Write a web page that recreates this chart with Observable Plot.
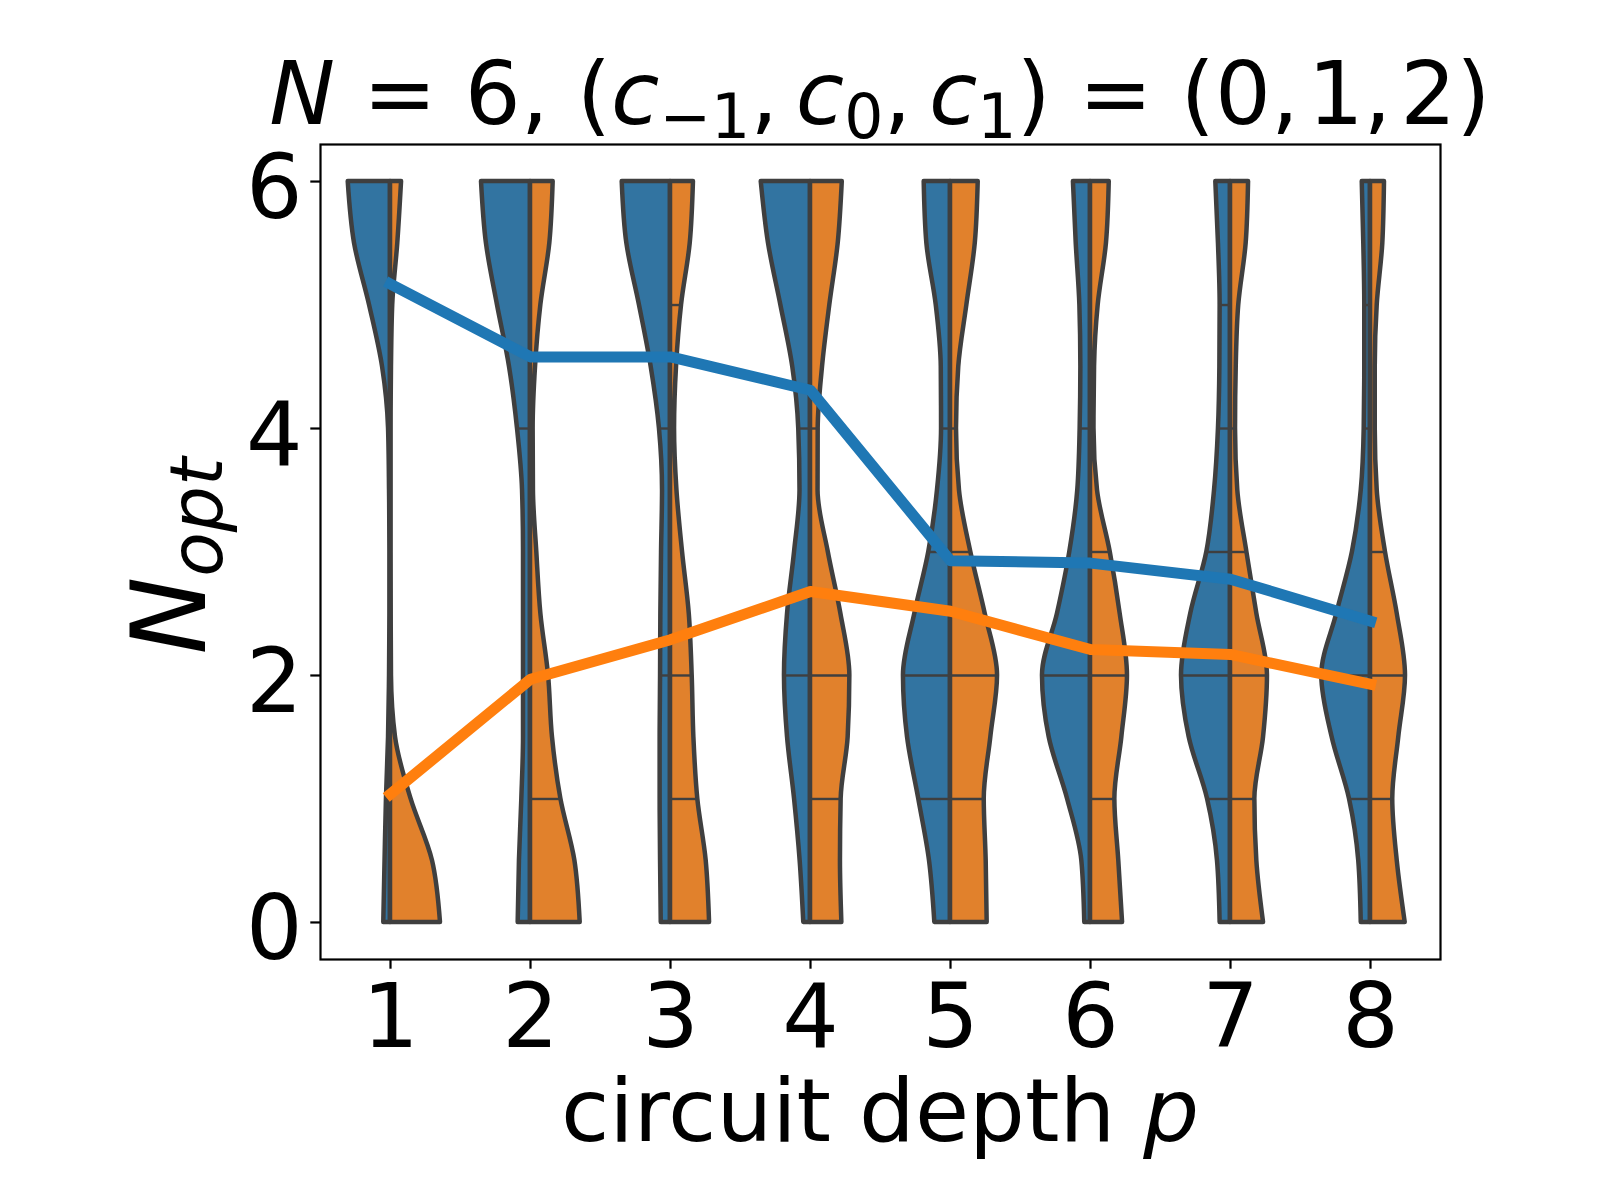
<!DOCTYPE html>
<html><head><meta charset="utf-8">
<script src="https://cdn.jsdelivr.net/npm/d3@7"></script>
<script src="https://cdn.jsdelivr.net/npm/@observablehq/plot@0.6"></script>
<style>body{margin:0;background:#fff} svg{display:block}</style>
</head><body><div id="chart"></div>
<script>
// circuit depth categories
const depths = [1, 2, 3, 4, 5, 6, 7, 8];
// N_opt levels at which violin half-widths were read (0 .. 6)
const levels = [0, 0.5, 1, 1.5, 2, 2.5, 3, 3.5, 4, 4.5, 5, 5.5, 6];
// half-widths (in category units) of the blue (left) halves, one row per depth, bottom to top
const blueWidths = [
  [0.048, 0.039, 0.029, 0.014, 0.007, 0.004, 0.004, 0.007, 0.014, 0.057, 0.150, 0.257, 0.302],
  [0.088, 0.079, 0.062, 0.050, 0.050, 0.050, 0.050, 0.057, 0.093, 0.150, 0.236, 0.315, 0.350],
  [0.066, 0.071, 0.074, 0.074, 0.071, 0.069, 0.064, 0.057, 0.079, 0.138, 0.222, 0.312, 0.345],
  [0.048, 0.074, 0.114, 0.164, 0.186, 0.164, 0.114, 0.075, 0.084, 0.127, 0.212, 0.300, 0.352],
  [0.112, 0.150, 0.227, 0.307, 0.336, 0.255, 0.155, 0.093, 0.064, 0.066, 0.102, 0.169, 0.188],
  [0.041, 0.062, 0.164, 0.295, 0.343, 0.236, 0.148, 0.091, 0.074, 0.069, 0.076, 0.102, 0.122],
  [0.074, 0.093, 0.164, 0.295, 0.350, 0.284, 0.169, 0.114, 0.086, 0.076, 0.074, 0.086, 0.105],
  [0.066, 0.084, 0.150, 0.274, 0.348, 0.241, 0.129, 0.066, 0.045, 0.041, 0.041, 0.048, 0.059]
];
// half-widths of the orange (right) halves
const orangeWidths = [
  [0.357, 0.300, 0.147, 0.036, 0.007, 0.005, 0.004, 0.004, 0.004, 0.007, 0.016, 0.052, 0.079],
  [0.355, 0.317, 0.217, 0.157, 0.129, 0.074, 0.045, 0.021, 0.019, 0.036, 0.074, 0.138, 0.162],
  [0.279, 0.255, 0.195, 0.167, 0.155, 0.134, 0.086, 0.046, 0.029, 0.043, 0.079, 0.141, 0.164],
  [0.224, 0.214, 0.219, 0.269, 0.281, 0.217, 0.127, 0.054, 0.055, 0.086, 0.138, 0.198, 0.227],
  [0.262, 0.255, 0.241, 0.288, 0.336, 0.248, 0.145, 0.064, 0.043, 0.059, 0.117, 0.177, 0.198],
  [0.229, 0.202, 0.174, 0.224, 0.264, 0.212, 0.141, 0.050, 0.025, 0.029, 0.055, 0.114, 0.134],
  [0.236, 0.188, 0.174, 0.236, 0.264, 0.188, 0.117, 0.052, 0.036, 0.041, 0.059, 0.112, 0.129],
  [0.248, 0.191, 0.159, 0.202, 0.250, 0.191, 0.107, 0.048, 0.034, 0.034, 0.048, 0.088, 0.100]
];
// inner lines drawn inside each half
const blueInner = [[], [4], [2, 4], [2, 4], [1, 2, 3, 4], [2, 4], [1, 2, 3, 4, 5], [1, 2, 4, 5]];
const orangeInner = [[], [1, 2], [1, 2, 5], [1, 2, 4], [1, 2, 3, 4], [1, 2, 3], [1, 2, 3, 4], [1, 2, 3]];
// mean lines
const blueMeans = [5.17, 4.58, 4.58, 4.31, 2.93, 2.91, 2.78, 2.44];
const orangeMeans = [1.04, 1.97, 2.29, 2.68, 2.52, 2.21, 2.17, 1.93];
const yTicks = [0, 2, 4, 6];

const blueFill = "#3274a1", orangeFill = "#e1812c", edge = "#3f3f3f";

const blueRows = [], orangeRows = [];
depths.forEach((p, i) => levels.forEach((y, j) => {
  blueRows.push({p, y, x1: p - blueWidths[i][j], x2: p});
  orangeRows.push({p, y, x1: p, x2: p + orangeWidths[i][j]});
}));
const innerRows = [];
depths.forEach((p, i) => {
  blueInner[i].forEach(v => innerRows.push({y: v, x1: p - blueWidths[i][levels.indexOf(v)], x2: p}));
  orangeInner[i].forEach(v => innerRows.push({y: v, x1: p, x2: p + orangeWidths[i][levels.indexOf(v)]}));
});
const blueLine = depths.map((p, i) => ({p, v: blueMeans[i]}));
const orangeLine = depths.map((p, i) => ({p, v: orangeMeans[i]}));

const plot = Plot.plot({
  width: 1600, height: 1200,
  marginLeft: 320, marginRight: 160, marginTop: 144, marginBottom: 241,
  style: {fontFamily: "DejaVu Sans", background: "white", color: "black", overflow: "visible"},
  x: {type: "linear", domain: [0.5, 8.5]},
  y: {domain: [-0.3, 6.3]},
  marks: [
    Plot.areaX(blueRows, {y: "y", x1: "x1", x2: "x2", z: "p", fill: blueFill, stroke: edge, strokeWidth: 4.5, strokeLinejoin: "round", curve: "monotone-y"}),
    Plot.areaX(orangeRows, {y: "y", x1: "x1", x2: "x2", z: "p", fill: orangeFill, stroke: edge, strokeWidth: 4.5, strokeLinejoin: "round", curve: "monotone-y"}),
    Plot.ruleY(innerRows, {y: "y", x1: "x1", x2: "x2", stroke: edge, strokeWidth: 2.4}),
    Plot.line(blueLine, {x: "p", y: "v", stroke: "#1f77b4", strokeWidth: 11, strokeLinecap: "square", strokeLinejoin: "round"}),
    Plot.line(orangeLine, {x: "p", y: "v", stroke: "#ff7f0e", strokeWidth: 11, strokeLinecap: "square", strokeLinejoin: "round"}),
    Plot.frame({stroke: "black", strokeWidth: 2.2}),
    Plot.axisY({ticks: yTicks, tickSize: 9.7, strokeWidth: 2.2, label: null, tickFormat: () => ""}),
    Plot.text(yTicks, {x: 0.5, y: d => d, text: d => String(d), textAnchor: "end", dx: -18, dy: 8, fontSize: 89, fill: "black"}),
    Plot.axisX({ticks: depths, tickSize: 9.7, tickPadding: 15, fontSize: 89, strokeWidth: 2.2, label: null, tickFormat: d => String(d)})
  ]
});
document.getElementById("chart").appendChild(plot);

const svg = d3.select(plot);
function addMath(parent, parts, size) {
  let shift = 0;
  parts.forEach(([txt, italic, sub]) => {
    const want = sub ? Math.round(size * 0.16) : 0;
    const t = parent.append("tspan").text(txt)
      .style("font-style", italic ? "italic" : "normal")
      .style("font-size", (sub ? size * 0.7 : size) + "px");
    if (want !== shift) { t.attr("dy", want - shift); shift = want; }
  });
}
// title
const title = svg.append("text").attr("x", 880).attr("y", 124).attr("text-anchor", "middle")
  .style("font-family", "DejaVu Sans").attr("fill", "black");
addMath(title, [["N", true], [" = 6, (", false], ["c", true], ["\u22121", false, true], [",\u2009", false],
  ["c", true], ["0", false, true], [",\u2009", false], ["c", true], ["1", false, true], [") = (0,\u200a1,\u200a2)", false]], 88);
// x label
const xl = svg.append("text").attr("x", 880).attr("y", 1141).attr("text-anchor", "middle")
  .style("font-family", "DejaVu Sans").attr("fill", "black");
addMath(xl, [["circuit depth ", false], ["p", true]], 88);
// y label
const yl = svg.append("text").attr("transform", "translate(205,556) rotate(-90)").attr("text-anchor", "middle")
  .style("font-family", "DejaVu Sans").attr("fill", "black");
addMath(yl, [["N", true], ["opt", true, true]], 104);
</script></body></html>
